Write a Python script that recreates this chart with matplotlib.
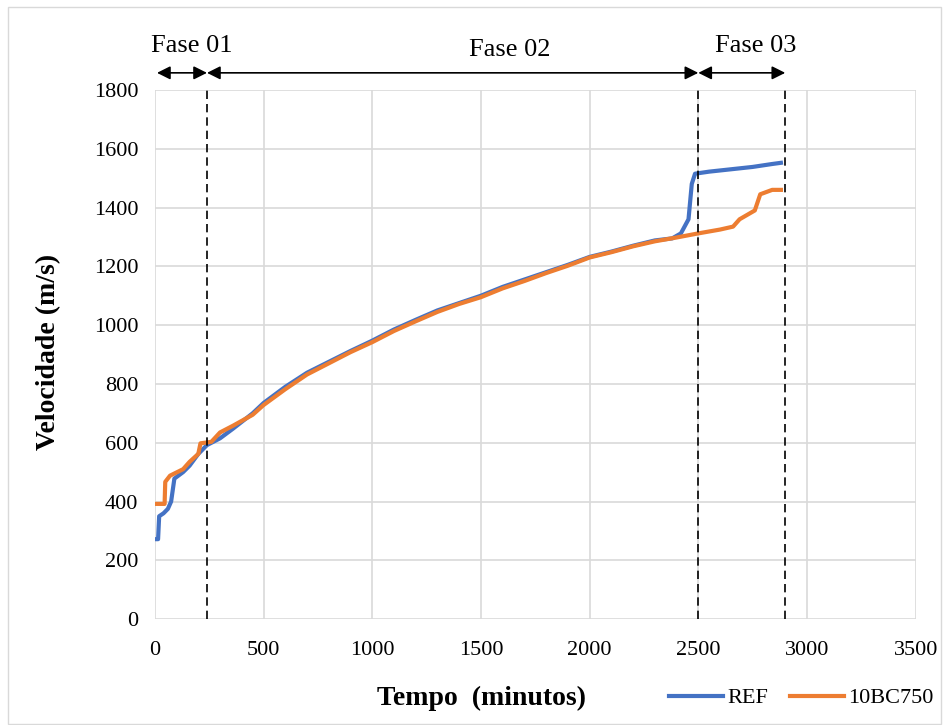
import matplotlib
matplotlib.use("Agg")
import matplotlib.pyplot as plt
from matplotlib.patches import Rectangle

plt.rcParams['font.family'] = ['Liberation Serif', 'DejaVu Serif']

# REF series (tempo em minutos, velocidade m/s)
t_ref = [0, 15, 20, 40, 60, 75, 90, 130, 160, 200, 240, 300, 360, 450, 500, 600, 700, 800, 900,
         1000, 1100, 1200, 1300, 1400, 1500, 1600, 1700, 1800, 1900, 2000, 2100, 2200, 2300,
         2380, 2420, 2455, 2470, 2485, 2550, 2650, 2750, 2840, 2880]
v_ref = [272, 272, 350, 360, 375, 400, 478, 500, 522, 562, 592, 615, 648, 700, 735, 790, 838, 875, 912,
         947, 985, 1018, 1050, 1075, 1100, 1130, 1155, 1180, 1205, 1232, 1250, 1270, 1288,
         1295, 1312, 1360, 1480, 1515, 1522, 1530, 1538, 1548, 1552]

# 10BC750 series
t_bc = [0, 45, 48, 70, 130, 160, 200, 210, 260, 300, 360, 450, 500, 600, 700, 800, 900,
        1000, 1100, 1200, 1300, 1400, 1500, 1600, 1700, 1800, 1900, 2000, 2100, 2200, 2300,
        2400, 2500, 2600, 2660, 2690, 2760, 2785, 2840, 2880]
v_bc = [392, 392, 467, 488, 510, 535, 562, 598, 603, 635, 658, 695, 728, 782, 832, 870, 908,
        942, 980, 1013, 1045, 1072, 1095, 1125, 1150, 1177, 1202, 1230, 1248, 1268, 1285,
        1298, 1312, 1325, 1335, 1360, 1390, 1445, 1460, 1460]

fase_limits = [240, 2500, 2900]
fase_labels = ["Fase 01", "Fase 02", "Fase 03"]

fig = plt.figure(figsize=(9.44, 7.25), dpi=100)
ax = fig.add_axes([0.164, 0.146, 0.806, 0.730])

ax.plot(t_ref, v_ref, color='#4472C4', lw=3, label='REF')
ax.plot(t_bc, v_bc, color='#ED7D31', lw=3, label='10BC750')

ax.set_xlim(0, 3500)
ax.set_ylim(0, 1800)
ax.set_xticks(range(0, 3501, 500))
ax.set_yticks(range(0, 1801, 200))
ax.grid(True, color='#d9d9d9', lw=1.2)
ax.set_axisbelow(True)
for s in ax.spines.values():
    s.set_visible(False)
ax.tick_params(length=0, labelsize=16)
ax.tick_params(axis='x', pad=16)
ax.tick_params(axis='y', pad=12)

for x in fase_limits:
    ax.plot([x, x], [0, 1800], color='black', ls=(0, (5, 3)), lw=1.2, clip_on=False)

# arrows above plot
starts = [10] + fase_limits[:-1]
ya = 1858
for x0, x1 in zip(starts, fase_limits):
    ax.annotate('', xy=(x0, ya), xytext=(x1, ya), xycoords='data',
                arrowprops=dict(arrowstyle='<|-|>', color='black', lw=1.2,
                                mutation_scale=20, shrinkA=0, shrinkB=0),
                annotation_clip=False)
ax.text(172, 1950, fase_labels[0], ha='center', va='center', fontsize=19)
ax.text(1635, 1936, fase_labels[1], ha='center', va='center', fontsize=19)
ax.text(2765, 1950, fase_labels[2], ha='center', va='center', fontsize=19)

fig.text(0.051, 0.514, 'Velocidade (m/s)', rotation=90, ha='center', va='center',
         fontsize=20, fontweight='bold')
fig.text(0.510, 0.037, 'Tempo  (minutos)', ha='center', va='center',
         fontsize=20, fontweight='bold')
fig.legend(loc='center', bbox_to_anchor=(0.849, 0.037), ncol=2, frameon=False,
           fontsize=16, handlelength=2.4, handletextpad=0.2, columnspacing=1.0)

fig.patches.append(Rectangle((8 / 944, 0.002), 0.997 - 8 / 944, 0.989, transform=fig.transFigure,
                             fill=False, edgecolor='#d9d9d9', lw=1))

fig.savefig('out.png', dpi=100)
